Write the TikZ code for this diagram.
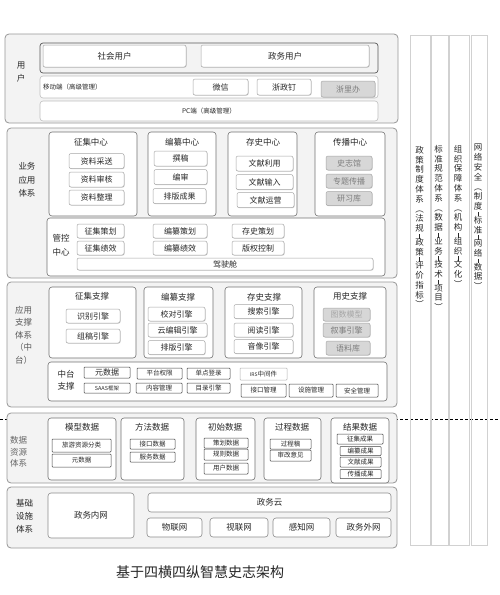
\documentclass[tikz,border=0pt]{standalone}
\usepackage{fontspec}
\setmainfont{Noto Sans CJK SC}
\usetikzlibrary{positioning,shadows}
\definecolor{LayerGray}{RGB}{243,243,243}
\definecolor{EdgeGray}{RGB}{150,150,150}
\definecolor{InkGray}{RGB}{40,40,40}
\definecolor{MuteGray}{RGB}{125,125,125}
\definecolor{PaleFill}{RGB}{215,215,215}
\tikzset{
  layer/.style={draw=EdgeGray, line width=0.8pt, fill=LayerGray, rounded corners=4pt, inner sep=0pt},
  card/.style={draw=black!55, line width=0.6pt, fill=white, rounded corners=3pt, inner sep=0pt},
  item/.style={draw=black!35, line width=0.5pt, fill=white, rounded corners=2pt, inner sep=0pt, text=InkGray,
    font=\fontsize{8}{9}\selectfont, drop shadow={shadow xshift=0.6pt, shadow yshift=-0.6pt, opacity=0.35}},
  paleitem/.style={item, fill=PaleFill, text=MuteGray},
  plainitem/.style={draw=black!75, line width=0.5pt, fill=white, rounded corners=0.8pt, inner sep=0pt, text=InkGray,
    font=\fontsize{6.5}{7.5}\selectfont},
  head/.style={text=InkGray, font=\fontsize{8.5}{10}\selectfont, inner sep=0pt},
  side/.style={text=InkGray, align=left, inner sep=0pt, font=\fontsize{8.5}{13.5}\selectfont},
  vcol/.style={draw=black!18, line width=0.8pt, inner sep=0pt, minimum height=510},
  vtext/.style={text=InkGray, align=center, inner sep=0pt, anchor=north, font=\fontsize{8.5}{9.8}\selectfont},
}
\newcommand{\vsep}{\\[-3pt]\rule{0.5pt}{4.5pt}\\[-3pt]}
\begin{document}
\begin{tikzpicture}[x=1pt,y=-1pt]
  \useasboundingbox (0,0) rectangle (499,595);
  % dashed divider behind the layers
  \coordinate (dashl) at (0,419);
  \coordinate (dashr) at (499,419);
  \draw[dash pattern=on 3pt off 2pt, line width=0.6pt] (dashl) -- (dashr);

  % layer 1: users
  \node[layer, minimum width=393, minimum height=89] (yonghu) at (201.5,78.5) {};
  \node[side, align=center] (yonghulbl) at (21,72) {用\\户};
  \node[draw=black!65, line width=0.7pt, rounded corners=3pt, minimum width=338, minimum height=30] (users) at (209,58) {};
  \node[item, font=\fontsize{8.5}{10}\selectfont, minimum width=143, minimum height=22] (shehui) at (114.5,56) {社会用户};
  \node[item, font=\fontsize{8.5}{10}\selectfont, minimum width=168, minimum height=22] (zhengwu) at (285,56) {政务用户};
  \node[card, draw=black!25, minimum width=338, minimum height=22] (mobile) at (209,87) {};
  \node[head, anchor=west, font=\fontsize{6.5}{8}\selectfont] (mobilelbl) at (43,87) {移动端（高级管理）};
  \node[item, minimum width=55, minimum height=16] (weixin) at (220.5,87) {微信};
  \node[item, minimum width=54, minimum height=16] (zzd) at (284,87) {浙政钉};
  \node[paleitem, minimum width=54, minimum height=16] (zlb) at (348,89) {浙里办};
  \node[card, draw=black!25, minimum width=338, minimum height=20, font=\fontsize{6.5}{8}\selectfont, text=InkGray] (pc) at (209,111) {PC端（高级管理）};

  % layer 2: business applications
  \node[layer, minimum width=390, minimum height=150] (yewu) at (202,203) {};
  \node[side] (yewulbl) at (27,180) {业务\\应用\\体系};
  \node[card, minimum width=88, minimum height=84] (zhengji) at (93,174) {};
  \node[head] at (91,142) {征集中心};
  \node[item, minimum width=55, minimum height=15] (zlcs) at (96.5,161) {资料采送};
  \node[item, minimum width=55, minimum height=15] (zlsh) at (96.5,179.5) {资料审核};
  \node[item, minimum width=55, minimum height=15] (zlzl) at (96.5,197.5) {资料整理};
  \node[card, minimum width=68, minimum height=84] (bianzuan) at (182,174) {};
  \node[head] at (182,142) {编纂中心};
  \node[item, minimum width=53, minimum height=15] (zhuangao) at (180.5,158.5) {撰稿};
  \node[item, minimum width=53, minimum height=15] (bianshen) at (180.5,177) {编审};
  \node[item, minimum width=53, minimum height=15] (paiban) at (179.5,196) {排版成果};
  \node[card, minimum width=69, minimum height=84] (cunshi) at (262.5,174) {};
  \node[head] at (263,142) {存史中心};
  \node[item, minimum width=57, minimum height=15] (wxly) at (264.5,163.5) {文献利用};
  \node[item, minimum width=57, minimum height=15] (wxsr) at (264.5,182) {文献输入};
  \node[item, minimum width=57, minimum height=15] (wxyy) at (265.5,200) {文献运营};
  \node[card, minimum width=70, minimum height=84] (chuanbo) at (350,174) {};
  \node[head] at (350,142) {传播中心};
  \node[paleitem, minimum width=46, minimum height=14] (szg) at (349,163) {史志馆};
  \node[paleitem, minimum width=46, minimum height=14] (ztcb) at (349,181) {专题传播};
  \node[paleitem, minimum width=46, minimum height=14] (yxk) at (349,198.5) {研习库};
  \node[card, minimum width=338, minimum height=58] (guankong) at (216,247) {};
  \node[side, font=\fontsize{8.5}{14}\selectfont] (guankonglbl) at (61,245) {管控\\中心};
  \node[item, minimum width=47, minimum height=14] (zjch) at (100.5,231) {征集策划};
  \node[item, minimum width=47, minimum height=14] (zjjx) at (100.5,248) {征集绩效};
  \node[item, minimum width=54, minimum height=14] (bzch) at (180,231) {编纂策划};
  \node[item, minimum width=54, minimum height=14] (bzjx) at (180,248) {编纂绩效};
  \node[item, minimum width=52, minimum height=14] (csch) at (258,231) {存史策划};
  \node[item, minimum width=52, minimum height=14] (bqkz) at (258,248) {版权控制};
  \node[item, minimum width=296, minimum height=12] (jiashi) at (225,264) {驾驶舱};

  % layer 3: support platform
  \node[layer, minimum width=390, minimum height=125] (zhicheng) at (202,344.5) {};
  \node[side, anchor=west, text=black!65, font=\fontsize{8.5}{12.5}\selectfont] (zhichenglbl) at (15,335) {应用\\支撑\\体系\\（中\\台）};
  \node[card, minimum width=87, minimum height=71] (zjzc) at (92.5,322.5) {};
  \node[head] at (92,296) {征集支撑};
  \node[item, minimum width=54, minimum height=14] (sbyq) at (93,316) {识别引擎};
  \node[item, minimum width=54, minimum height=14] (zgyq) at (93,336) {组稿引擎};
  \node[card, minimum width=69, minimum height=71] (bzzc) at (178.5,322.5) {};
  \node[head] at (178,297) {编纂支撑};
  \node[item, minimum width=57, minimum height=14] (jdyq) at (176.5,314) {校对引擎};
  \node[item, minimum width=59, minimum height=14] (ybjyq) at (177.5,330) {云编辑引擎};
  \node[item, minimum width=57, minimum height=14] (pbyq) at (176.5,347.5) {排版引擎};
  \node[card, minimum width=77, minimum height=71] (cszc) at (263.5,322.5) {};
  \node[head] at (264,297) {存史支撑};
  \node[item, minimum width=59, minimum height=14] (ssyq) at (263.5,311.5) {搜索引擎};
  \node[item, minimum width=59, minimum height=14] (ydyq) at (263.5,330) {阅读引擎};
  \node[item, minimum width=59, minimum height=14] (yxyq) at (263.5,346.5) {音像引擎};
  \node[card, minimum width=72, minimum height=71] (yszc) at (350,322.5) {};
  \node[head] at (350,296) {用史支撑};
  \node[paleitem, text=black!35, minimum width=47, minimum height=13] (tsmx) at (346.5,314.5) {图数模型};
  \node[paleitem, minimum width=47, minimum height=14] (xsyq) at (346.5,330) {叙事引擎};
  \node[paleitem, minimum width=44, minimum height=14] (ylk) at (348,348) {语料库};
  \node[card, minimum width=339, minimum height=39] (zhongtai) at (217.5,381.5) {};
  \node[side, font=\fontsize{8.5}{11.5}\selectfont] (zhongtailbl) at (66,380) {中台\\支撑};
  \node[plainitem, font=\fontsize{8}{9}\selectfont, minimum width=46, minimum height=11] (ysj) at (107,372.5) {元数据};
  \node[plainitem, font=\fontsize{5.5}{6.5}\selectfont, minimum width=46, minimum height=10] (saas) at (107,388) {SAAS框架};
  \node[plainitem, minimum width=45, minimum height=11] (ptqx) at (159.5,373.5) {平台权限};
  \node[plainitem, minimum width=46, minimum height=10] (nrgl) at (159,388) {内容管理};
  \node[plainitem, minimum width=43, minimum height=11] (dddl) at (208.5,373.5) {单点登录};
  \node[plainitem, minimum width=43, minimum height=10] (mlyq) at (208.5,388) {目录引擎};
  \node[plainitem, draw=black!30, minimum width=47, minimum height=12] (irs) at (263.5,374) {\fontsize{5}{6}\selectfont IRS\fontsize{6.5}{7.5}\selectfont 中间件};
  \node[plainitem, minimum width=45, minimum height=13] (jkgl) at (263.5,390.5) {接口管理};
  \node[plainitem, minimum width=44, minimum height=13] (ssgl) at (311,390.5) {设施管理};
  \node[plainitem, minimum width=42, minimum height=13] (aqgl) at (357,390.5) {安全管理};

  % layer 4: data resources
  \node[layer, minimum width=390, minimum height=70] (shuju) at (202,448) {};
  \node[side, anchor=west, text=black!60, font=\fontsize{8.5}{11.5}\selectfont] (shujulbl) at (10,452) {数据\\资源\\体系};
  \node[card, minimum width=68, minimum height=62] (mxsj) at (82,449) {};
  \node[head] at (82,427) {模型数据};
  \node[plainitem, minimum width=59, minimum height=13] (lyzy) at (81.5,445.5) {旅游资源分类};
  \node[plainitem, minimum width=59, minimum height=13] (ysj2) at (81.5,460.5) {元数据};
  \node[card, minimum width=63, minimum height=62] (ffsj) at (152.5,449) {};
  \node[head] at (152,427) {方法数据};
  \node[plainitem, minimum width=45, minimum height=10] (jksj) at (152.5,444) {接口数据};
  \node[plainitem, minimum width=45, minimum height=10] (fwsj) at (152.5,457) {服务数据};
  \node[card, minimum width=59, minimum height=62] (cssj) at (225.5,449) {};
  \node[head] at (225,427) {初始数据};
  \node[plainitem, minimum width=44, minimum height=10] (chsj) at (226,443) {策划数据};
  \node[plainitem, minimum width=44, minimum height=11] (gzsj) at (226,454.5) {规则数据};
  \node[plainitem, minimum width=44, minimum height=11] (yhsj) at (226,468.5) {用户数据};
  \node[card, minimum width=57, minimum height=62] (gcsj) at (292.5,449) {};
  \node[head] at (292,427) {过程数据};
  \node[plainitem, minimum width=41, minimum height=10] (gcg) at (290.5,444) {过程稿};
  \node[plainitem, minimum width=41, minimum height=11] (sgyj) at (290.5,455.5) {审改意见};
  \node[card, minimum width=58, minimum height=65] (jgsj) at (360,450.5) {};
  \node[head] at (360,427) {结果数据};
  \node[plainitem, minimum width=46, minimum height=10] (zjcg) at (360,439) {征集成果};
  \node[plainitem, minimum width=41, minimum height=9] (bzcg) at (360.5,451) {编纂成果};
  \node[plainitem, minimum width=41, minimum height=10] (wxcg) at (360.5,462) {文献成果};
  \node[plainitem, minimum width=41, minimum height=9] (cbcg) at (360.5,474) {传播成果};

  % layer 5: infrastructure
  \node[layer, minimum width=390, minimum height=61] (jichu) at (202,517.5) {};
  \node[side, anchor=west, font=\fontsize{8.5}{13}\selectfont] (jichulbl) at (16,516) {基础\\设施\\体系};
  \node[card, draw=black!45, text=InkGray, font=\fontsize{8.5}{10}\selectfont, minimum width=86, minimum height=45] (zwnw) at (91,515.5) {政务内网};
  \node[card, draw=black!45, text=InkGray, font=\fontsize{8.5}{10}\selectfont, minimum width=243, minimum height=19] (zwy) at (269.5,502.5) {政务云};
  \node[card, draw=black!45, text=InkGray, font=\fontsize{8.5}{10}\selectfont, minimum width=55, minimum height=19] (wlw) at (174.5,527.5) {物联网};
  \node[card, draw=black!45, text=InkGray, font=\fontsize{8.5}{10}\selectfont, minimum width=58, minimum height=19] (slw) at (239,527.5) {视联网};
  \node[card, draw=black!45, text=InkGray, font=\fontsize{8.5}{10}\selectfont, minimum width=57, minimum height=19] (gzw) at (301.5,527.5) {感知网};
  \node[card, draw=black!45, text=InkGray, font=\fontsize{8.5}{10}\selectfont, minimum width=55, minimum height=19] (zwww) at (363.5,527.5) {政务外网};

  % vertical columns
  \node[vcol, minimum width=20] (zhengce) at (420,290) {};
  \node[vcol, minimum width=17] (biaozhun) at (439.5,290) {};
  \node[vcol, minimum width=20] (zuzhi) at (459,290) {};
  \node[vcol, minimum width=16] (anquan) at (479,290) {};
  \node[vtext] at (419.5,146) {政\\策\\制\\度\\体\\系\\︵\\法\\规\vsep 政\\策\vsep 评\\价\\指\\标\\︶};
  \node[vtext] at (438.5,145) {标\\准\\规\\范\\体\\系\\︵\\数\\据\vsep 业\\务\vsep 技\\术\vsep 项\\目\\︶};
  \node[vtext] at (458,145) {组\\织\\保\\障\\体\\系\\︵\\机\\构\vsep 组\\织\vsep 文\\化\\︶};
  \node[vtext] at (478,144) {网\\络\\安\\全\\︵\\制\\度\vsep 标\\准\vsep 网\\络\vsep 数\\据\\︶};

  % title
  \node[text=black!85, font=\fontsize{14}{16}\selectfont] (title) at (200,572) {基于四横四纵智慧史志架构};
\end{tikzpicture}
\end{document}
